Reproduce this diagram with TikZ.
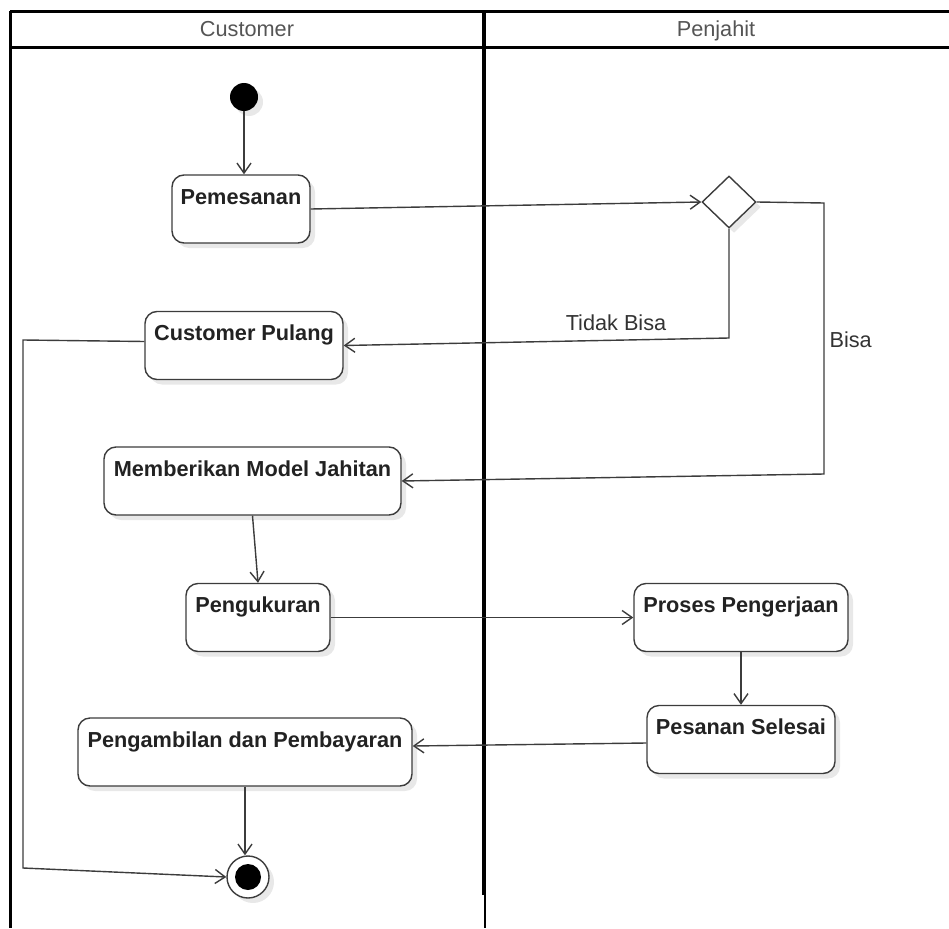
\documentclass[tikz,border=0pt]{standalone}
\usepackage{fontspec}
\setmainfont{Liberation Sans}
\usetikzlibrary{arrows.meta,shapes.geometric,shadows}
\definecolor{edgec}{HTML}{3C3C3C}
\definecolor{boxtxt}{HTML}{222222}
\definecolor{hdrtxt}{HTML}{555555}
\begin{document}
\begin{tikzpicture}[x=1pt,y=-1pt,
  shad/.style={drop shadow={shadow xshift=5pt,shadow yshift=-5pt,fill=black!9,opacity=1}},
  act/.style={draw=edgec, line width=1.4pt, rounded corners=12pt, fill=white, inner sep=0pt,
    text height=29pt, text depth=39pt, text=boxtxt,
    font=\fontsize{21.7}{26}\selectfont\bfseries, shad},
  flow/.style={draw=edgec, line width=1.4pt, -{Straight Barb[length=10pt,width=14pt]}},
  lane/.style={draw=black, line width=3pt},
  hdr/.style={text=hdrtxt, font=\fontsize{21.7}{26}\selectfont, anchor=base},
  lbl/.style={text=black!80, font=\fontsize{21.7}{26}\selectfont}]
\useasboundingbox (0,0) rectangle (949,928);
% swimlanes
\draw[lane] (10,12) -- (949,12);
\draw[lane] (10,48) -- (949,48);
\draw[lane] (10,11) -- (10,928);
\draw[black, line width=4pt] (484,11) -- (484,895);
\draw[black, line width=1.6pt] (485,895) -- (485,928);
\node[hdr] (hc) at (247,37) {Customer};
\node[hdr] (hp) at (716,37) {Penjahit};
% nodes
\node[circle, fill=black, minimum size=28pt, inner sep=0pt, shad] (start) at (244,97) {};
\node[act, minimum width=138pt] (pem) at (241,209) {Pemesanan};
\node[diamond, draw=edgec, line width=1.4pt, fill=white, minimum width=54pt, minimum height=52pt, inner sep=0pt, shad] (dec) at (729,202) {};
\node[act, minimum width=198pt] (cp) at (244,345.5) {Customer Pulang};
\node[act, minimum width=297pt] (mmj) at (252.5,481) {Memberikan Model Jahitan};
\node[act, minimum width=144pt] (peng) at (258,617.5) {Pengukuran};
\node[act, minimum width=214pt] (pros) at (741,617.5) {Proses Pengerjaan};
\node[act, minimum width=188pt] (ps) at (741,739.5) {Pesanan Selesai};
\node[act, minimum width=334pt] (pp) at (245,752) {Pengambilan dan Pembayaran};
\node[circle, draw=edgec, line width=1.4pt, fill=white, minimum size=42pt, inner sep=0pt, shad,
  path picture={\fill[black] (path picture bounding box.center) circle (13pt);}] (end) at (248,877) {};
% coordinates
\coordinate (t1) at (729,338);
\coordinate (b1) at (824,203);
\coordinate (b2) at (824,474);
\coordinate (c1) at (23,340);
\coordinate (c2) at (23,868);
% labels
\node[lbl] (ltb) at (616,323) {Tidak Bisa};
\node[lbl, anchor=west] (lb) at (826,340) {Bisa};
% connectors
\draw[flow] (start.south) -- (start.south |- pem.north);
\draw[flow] (pem.east) -- (dec.west);
\draw[flow] (dec.south) -- (t1) -- (cp.east);
\draw[flow] (dec.east) -- (b1) -- (b2) -- (mmj.east);
\draw[flow] (mmj.south) -- (peng.north);
\draw[flow] (peng.east) -- (pros.west);
\draw[flow] (pros.south) -- (ps.north);
\draw[flow] ([yshift=-3.5pt]ps.west) -- ([yshift=6pt]pp.east);
\draw[flow] (pp.south) -- (pp.south |- end.north);
\draw[flow] ([yshift=4pt]cp.west) -- (c1) -- (c2) -- (end.west);
\end{tikzpicture}
\end{document}
